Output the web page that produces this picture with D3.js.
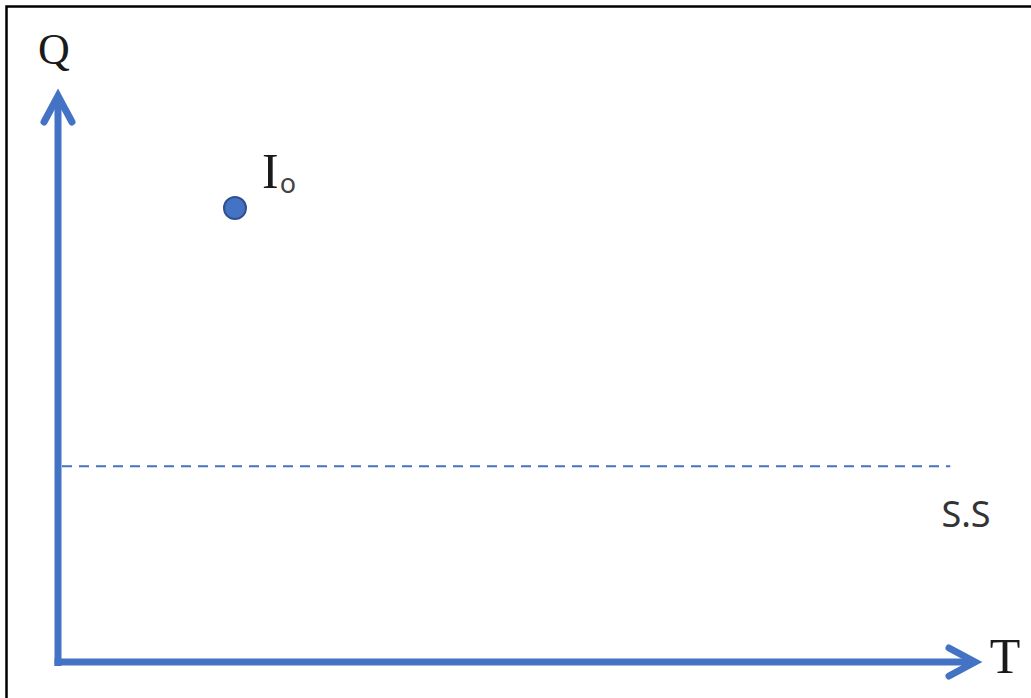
<!DOCTYPE html>
<html><head><meta charset="utf-8">
<script src="https://cdn.jsdelivr.net/npm/d3@7"></script>
<style>body{margin:0;background:#fff}svg{display:block}</style>
</head><body>
<script>
const axisLabels = ["T", "Q"];
const pointLabel = ["I", "o"];
const points = [{t: 1.93, q: 8.02}];
const steadyState = [3.46];
const steadyLabel = ["S.S"];

const W = 1031, H = 698;
const svg = d3.select("body").append("svg").attr("width", W).attr("height", H);
const blue = "#4472C4";

// frame
svg.append("rect").attr("x", 6.5).attr("y", 6.5).attr("width", 1040).attr("height", 720)
  .attr("fill", "none").attr("stroke", "#000").attr("stroke-width", 2.5);

const x = d3.scaleLinear().domain([0, 10]).range([58, 975]);
const y = d3.scaleLinear().domain([0, 10]).range([662, 96]);

// dashed steady-state line
svg.selectAll(".ss").data(steadyState).enter().append("line")
  .attr("x1", x(0) + 4).attr("x2", x(9.73)).attr("y1", d => y(d)).attr("y2", d => y(d))
  .attr("stroke", blue).attr("stroke-width", 2).attr("stroke-dasharray", "10,7");
svg.selectAll(".sst").data(steadyLabel).enter().append("text")
  .attr("x", 966).attr("y", 527).attr("text-anchor", "middle")
  .style("font-family", "'Noto Sans', 'Liberation Sans', sans-serif").style("font-size", "36px").attr("fill", "#333")
  .text(d => d);

// axes
svg.append("line").attr("x1", x(0)).attr("y1", y(0) + 4).attr("x2", x(0)).attr("y2", y(10))
  .attr("stroke", blue).attr("stroke-width", 7);
svg.append("line").attr("x1", x(0) - 3.5).attr("y1", y(0)).attr("x2", x(10) - 1).attr("y2", y(0))
  .attr("stroke", blue).attr("stroke-width", 7);
// arrowheads
svg.append("path").attr("d", `M${x(0) - 14},${y(10) + 26} L${x(0)},${y(10)} L${x(0) + 14},${y(10) + 26}`)
  .attr("fill", "none").attr("stroke", blue).attr("stroke-width", 7).attr("stroke-linecap", "round").attr("stroke-linejoin", "miter");
svg.append("path").attr("d", `M${x(10) - 26},${y(0) - 14} L${x(10)},${y(0)} L${x(10) - 26},${y(0) + 14}`)
  .attr("fill", "none").attr("stroke", blue).attr("stroke-width", 7).attr("stroke-linecap", "round").attr("stroke-linejoin", "miter");

// axis labels
svg.append("text").attr("x", 1005).attr("y", 673).attr("text-anchor", "middle")
  .style("font-family", "'Liberation Serif', serif").style("font-size", "50px").attr("fill", "#1a1a1a").text(axisLabels[0]);
svg.append("text").attr("x", 54).attr("y", 64).attr("text-anchor", "middle")
  .style("font-family", "'Liberation Serif', serif").style("font-size", "44px").attr("fill", "#1a1a1a").text(axisLabels[1]);

// point
svg.selectAll(".pt").data(points).enter().append("circle")
  .attr("cx", d => x(d.t)).attr("cy", d => y(d.q)).attr("r", 11)
  .attr("fill", blue).attr("stroke", "#2F528F").attr("stroke-width", 2);
const lbl = svg.append("text").attr("x", 262).attr("y", 188)
  .style("font-family", "'Liberation Serif', serif").style("font-size", "50px").attr("fill", "#1a1a1a");
lbl.append("tspan").text(pointLabel[0]);
lbl.append("tspan").attr("dy", 5).attr("dx", 1).style("font-family", "'Noto Sans', sans-serif").style("font-size", "27px").attr("fill", "#444").text(pointLabel[1]);
</script>
</body></html>
